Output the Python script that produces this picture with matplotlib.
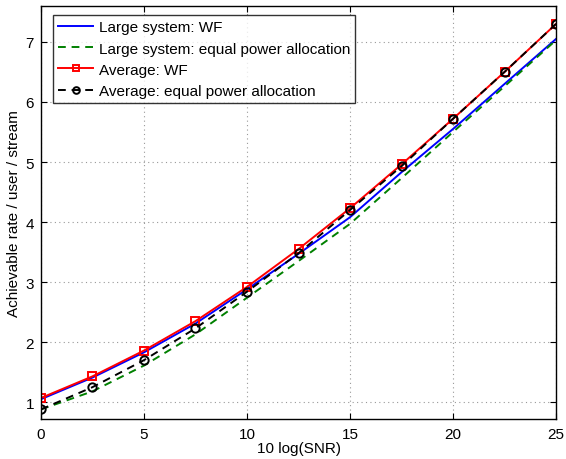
import matplotlib
matplotlib.use("Agg")
import matplotlib.pyplot as plt

plt.rcParams['font.family'] = ['Liberation Sans', 'DejaVu Sans']

snr_db = [0, 2.5, 5, 7.5, 10, 12.5, 15, 17.5, 20, 22.5, 25]
large_wf = [1.05, 1.41, 1.83, 2.31, 2.88, 3.47, 4.08, 4.83, 5.55, 6.30, 7.05]
large_equal = [0.88, 1.18, 1.61, 2.13, 2.74, 3.35, 3.97, 4.73, 5.50, 6.26, 7.03]
avg_wf = [1.07, 1.43, 1.86, 2.35, 2.92, 3.55, 4.23, 4.96, 5.72, 6.50, 7.30]
avg_equal = [0.88, 1.25, 1.70, 2.23, 2.84, 3.48, 4.20, 4.93, 5.72, 6.50, 7.30]

labels = ['Large system: WF',
          'Large system: equal power allocation',
          'Average: WF',
          'Average: equal power allocation']

fig = plt.figure(figsize=(5.66, 4.6), dpi=100)
ax = fig.add_axes([0.0724, 0.087, 0.91, 0.898])

ax.plot(snr_db, large_wf, color='#0000ff', lw=1.4, label=labels[0])
ax.plot(snr_db, large_equal, color='#008000', lw=1.4, ls=(0, (4, 3)), label=labels[1])
ax.plot(snr_db, avg_wf, color='#ff0000', lw=1.4, marker='s', ms=6,
        mfc='none', mec='#ff0000', mew=1.4, label=labels[2])
ax.plot(snr_db, avg_equal, color='black', lw=1.4, ls=(0, (4, 3)), marker='o', ms=6,
        mfc='none', mec='black', mew=1.4, label=labels[3])

ax.set_xlim(0, 25)
ax.set_ylim(0.72, 7.6)
ax.set_xticks([0, 5, 10, 15, 20, 25])
ax.set_yticks([1, 2, 3, 4, 5, 6, 7])
ax.tick_params(direction='in', top=True, right=True, labelsize=11, length=4, width=0.8)
ax.tick_params(axis='x', pad=6)
ax.tick_params(axis='y', pad=5)
ax.grid(True, ls=(0, (1, 3)), color='#999999', lw=0.8)
for s in ax.spines.values():
    s.set_linewidth(1.0)

ax.set_xlabel('10 log(SNR)', fontsize=11, labelpad=0)
ax.set_ylabel('Achievable rate / user / stream', fontsize=11, labelpad=3)

leg = ax.legend(loc='upper left', bbox_to_anchor=(0.0227, 0.978), borderaxespad=0,
                fontsize=11, frameon=True, fancybox=False, edgecolor='black',
                handlelength=2.3, labelspacing=0.47, handletextpad=0.35,
                borderpad=0.35, markerscale=0.8)
leg.get_frame().set_linewidth(1.0)

fig.savefig('out.png', dpi=100)
